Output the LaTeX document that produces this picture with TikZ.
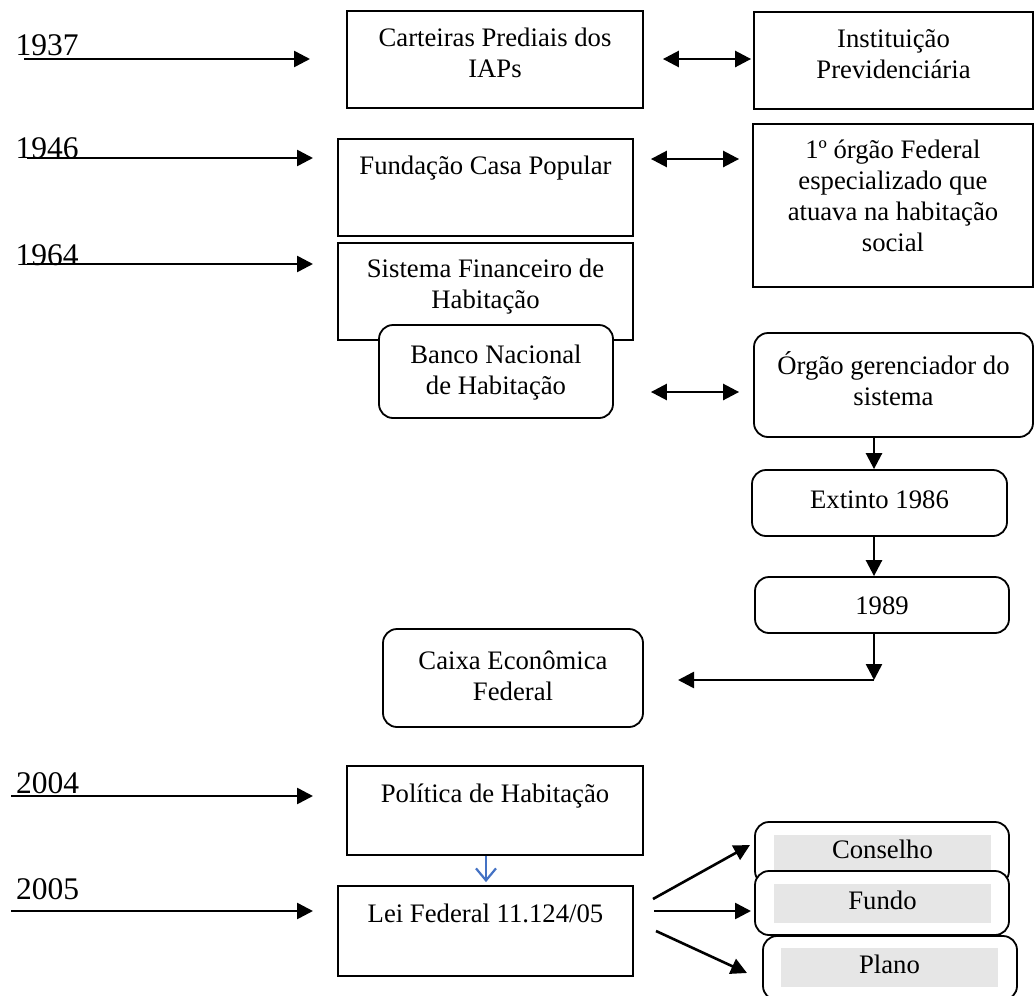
\documentclass[tikz,border=0pt]{standalone}
\usepackage{fontspec}
\setmainfont{Liberation Serif}
\usetikzlibrary{arrows.meta}
\definecolor{grayfill}{RGB}{230,230,230}
\definecolor{bluearr}{RGB}{68,114,196}
\begin{document}
\begin{tikzpicture}[x=1pt,y=-1pt,
  box/.style={draw, line width=1.8pt, fill=white, rectangle, inner sep=0pt},
  rbox/.style={box, rounded corners=14pt},
  gbox/.style={fill=grayfill, inner sep=0pt, text height=18pt, text depth=6pt,
     font=\fontsize{26.7}{31}\selectfont},
  txt/.style={align=center, inner sep=0pt, anchor=north,
     font=\fontsize{26.7}{31}\selectfont},
  yr/.style={inner sep=0pt, anchor=base west, font=\fontsize{31.5}{36}\selectfont},
  arr/.style={line width=2.6pt, -{Triangle[length=16pt,width=16pt]}},
  darr/.style={line width=2.6pt, {Triangle[length=16pt,width=16pt]}-{Triangle[length=16pt,width=16pt]}},
  barr/.style={line width=2.2pt, draw=bluearr, -{Straight Barb[length=12pt,width=20pt,line width=2.2pt]}}
]
\useasboundingbox (0,0) rectangle (1034,996);
\fill[white] (0,0) rectangle (1034,996);
\clip (0,0) rectangle (1034,996);

% boxes
\node[box, minimum width=296pt, minimum height=97pt] (car) at (495,59.5) {};
\node[box, minimum width=279pt, minimum height=97pt] (ins) at (893.5,60.5) {};
\node[box, minimum width=295pt, minimum height=97pt] (fun) at (485.5,187.5) {};
\node[box, minimum width=280pt, minimum height=163pt] (org) at (893,205.5) {};
\node[box, minimum width=295pt, minimum height=97pt] (sis) at (485.5,291.5) {};
\node[rbox, minimum width=234pt, minimum height=93pt] (ban) at (496,371.5) {};
\node[rbox, minimum width=279pt, minimum height=104pt] (ger) at (893.5,385) {};
\node[rbox, minimum width=255pt, minimum height=66pt] (ext) at (879.5,503) {};
\node[rbox, minimum width=254pt, minimum height=56pt] (n89) at (882,605) {};
\node[rbox, minimum width=260pt, minimum height=98pt] (cai) at (513,678) {};
\node[box, minimum width=296pt, minimum height=89pt] (pol) at (495,810.5) {};
\node[box, minimum width=295pt, minimum height=90pt] (lei) at (485.5,931) {};
\node[rbox, minimum width=254pt, minimum height=63pt] (con) at (882,853.5) {};
\node[gbox, minimum width=217pt, minimum height=35pt] (conT) at (882.5,852.5) {Conselho};
\node[rbox, minimum width=254pt, minimum height=64pt] (fdo) at (882,903) {};
\node[gbox, minimum width=217pt, minimum height=39pt] (fdoT) at (882.5,903.5) {Fundo};
\node[rbox, minimum width=254pt, minimum height=64pt] (pla) at (890,968) {};
\node[gbox, minimum width=217pt, minimum height=39pt] (plaT) at (889.5,967.5) {Plano};

% texts
\node[txt] (carT) at (495,46-21.7) {\strut Carteiras Prediais dos\\IAPs};
\node[txt] (insT) at (893.5,47-21.7) {\strut Instituição\\Previdenciária};
\node[txt] (funT) at (485.5,174-21.7) {\strut Fundação Casa Popular};
\node[txt] (orgT) at (893,158-21.7) {\strut 1º órgão Federal\\especializado que\\atuava na habitação\\social};
\node[txt] (sisT) at (485.5,277-21.7) {\strut Sistema Financeiro de\\Habitação};
\node[txt] (banT) at (496,363-21.7) {\strut Banco Nacional\\de Habitação};
\node[txt] (gerT) at (893.5,373-21.7) {\strut Órgão gerenciador do\\sistema};
\node[txt] (extT) at (879.5,508-21.7) {\strut Extinto 1986};
\node[txt] (n89T) at (882,614-21.7) {\strut 1989};
\node[txt] (caiT) at (513,669-21.7) {\strut Caixa Econômica\\Federal};
\node[txt] (polT) at (495,802-21.7) {\strut Política de Habitação};
\node[txt] (leiT) at (485.5,922-21.7) {\strut Lei Federal 11.124/05};

% years
\node[yr] (y37) at (15.5,55) {1937};
\node[yr] (y46) at (15.5,158) {1946};
\node[yr] (y64) at (15.5,265) {1964};
\node[yr] (y04) at (16,793) {2004};
\node[yr] (y05) at (16,899) {2005};

% year arrows
\coordinate (a37s) at (24,59);  \coordinate (a37e) at (310,59);
\coordinate (a46s) at (27,158); \coordinate (a46e) at (313,158);
\coordinate (a64s) at (27,264); \coordinate (a64e) at (313,264);
\coordinate (a04s) at (11,796); \coordinate (a04e) at (313,796);
\coordinate (a05s) at (11,911); \coordinate (a05e) at (313,911);
\draw[arr] (a37s) -- (a37e);
\draw[arr] (a46s) -- (a46e);
\draw[arr] (a64s) -- (a64e);
\draw[arr] (a04s) -- (a04e);
\draw[arr] (a05s) -- (a05e);

% double arrows
\coordinate (h1) at (0,59);
\coordinate (h2) at (0,159);
\coordinate (h3) at (0,392);
\draw[darr, shorten <=19pt, shorten >=2pt] (car.east |- h1) -- (ins.west |- h1);
\draw[darr, shorten <=17pt, shorten >=13pt] (fun.east |- h2) -- (org.west |- h2);
\draw[darr, shorten <=37pt, shorten >=14pt] (ban.east |- h3) -- (ger.west |- h3);

% vertical chain
\coordinate (vx) at (874,0);
\coordinate (crn) at (874,680);
\coordinate (cend) at (678,680);
\draw[arr] (ger.south -| vx) -- (ext.north -| vx);
\draw[arr] (ext.south -| vx) -- (n89.north -| vx);
\draw[arr] (n89.south -| vx) -- (crn);
\draw[arr] (crn) -- (cend);

% blue arrow
\coordinate (bx) at (486,0);
\draw[barr, shorten >=3pt] (pol.south -| bx) -- (lei.north -| bx);

% Lei arrows
\coordinate (l1) at (653,899); \coordinate (e1) at (750,845);
\coordinate (l2) at (654,911); \coordinate (e2) at (751,911);
\coordinate (l3) at (656,931); \coordinate (e3) at (747,973);
\draw[arr] (l1) -- (e1);
\draw[arr] (l2) -- (e2);
\draw[arr] (l3) -- (e3);
\end{tikzpicture}
\end{document}
